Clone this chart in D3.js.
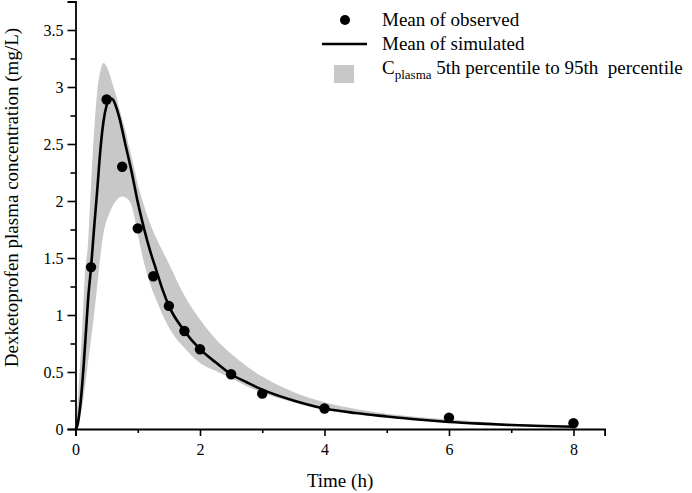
<!DOCTYPE html>
<html>
<head>
<meta charset="utf-8">
<script src="https://cdn.jsdelivr.net/npm/d3@7"></script>
<style>
  html, body { margin: 0; padding: 0; background: #fff; }
  svg { display: block; font-family: "Liberation Serif", "Times New Roman", serif; }
  svg text { font-family: "Liberation Serif", "Times New Roman", serif; }
</style>
</head>
<body>
<svg id="chart" width="692" height="493"></svg>
<script>
// ---- data ----
const obsTime = [0.25, 0.5, 0.75, 1, 1.25, 1.5, 1.75, 2, 2.5, 3, 4, 6, 8];
const obsMean = [1.42, 2.89, 2.30, 1.76, 1.34, 1.08, 0.86, 0.70, 0.48, 0.31, 0.18, 0.10, 0.05];

const simTime = [0, 0.03, 0.06, 0.09, 0.13, 0.17, 0.2, 0.25, 0.3, 0.35, 0.4, 0.45, 0.5, 0.55, 0.6, 0.65, 0.7, 0.8, 0.9, 1.0, 1.1, 1.2, 1.3, 1.4, 1.5, 1.75, 2.0, 2.25, 2.5, 2.75, 3.0, 3.5, 4.0, 4.5, 5.0, 5.5, 6.0, 6.5, 7.0, 7.5, 8.0];
const simMean = [0, 0.03, 0.13, 0.28, 0.55, 0.87, 1.12, 1.42, 1.77, 2.1, 2.45, 2.7, 2.84, 2.9, 2.89, 2.83, 2.74, 2.5, 2.26, 1.99, 1.76, 1.56, 1.39, 1.22, 1.08, 0.86, 0.70, 0.585, 0.48, 0.41, 0.345, 0.25, 0.18, 0.14, 0.11, 0.083, 0.062, 0.047, 0.035, 0.026, 0.02];

const bandTime = [0, 0.05, 0.1, 0.15, 0.2, 0.25, 0.3, 0.35, 0.4, 0.45, 0.5, 0.55, 0.6, 0.65, 0.7, 0.75, 0.8, 0.85, 0.9, 0.95, 1.0, 1.1, 1.2, 1.3, 1.4, 1.5, 1.75, 2.0, 2.25, 2.5, 2.75, 3.0, 3.5, 4.0, 4.5, 5.0, 5.5, 6.0, 6.5, 7.0, 7.5, 8.0];
const bandP95 = [0, 0.36, 0.8, 1.35, 1.62, 2.15, 2.62, 2.97, 3.14, 3.21, 3.18, 3.11, 3.02, 2.93, 2.82, 2.72, 2.62, 2.50, 2.39, 2.27, 2.15, 1.96, 1.80, 1.67, 1.56, 1.45, 1.17, 0.96, 0.79, 0.66, 0.55, 0.46, 0.325, 0.235, 0.175, 0.133, 0.105, 0.085, 0.063, 0.045, 0.031, 0.022];
const bandP5 = [0, 0.04, 0.17, 0.36, 0.58, 0.79, 1.01, 1.26, 1.52, 1.72, 1.83, 1.9, 1.96, 2.0, 2.03, 2.04, 2.03, 2.01, 1.96, 1.85, 1.71, 1.46, 1.27, 1.13, 1.0, 0.89, 0.71, 0.58, 0.51, 0.445, 0.375, 0.318, 0.235, 0.168, 0.13, 0.1, 0.076, 0.057, 0.043, 0.032, 0.024, 0.018];

const xTicks = [0, 2, 4, 6, 8];
const xMinorTicks = [1, 3, 5, 7];
const yTicks = [0, 0.5, 1, 1.5, 2, 2.5, 3, 3.5];
const yTickLabels = ["0", "0.5", "1", "1.5", "2", "2.5", "3", "3.5"];
const yMinorTicks = [0.25, 0.75, 1.25, 1.75, 2.25, 2.75, 3.25, 3.75];

const xTitle = "Time (h)";
const yTitle = "Dexketoprofen plasma concentration (mg/L)";
const legendObs = "Mean of observed";
const legendSim = "Mean of simulated";
const legendBandMain = "C";
const legendBandSub = "plasma";
const legendBandRest = " 5th percentile to 95th\u00a0 percentile";

// ---- layout ----
const FONT = "'Liberation Serif', 'Times New Roman', serif";
const svg = d3.select("#chart");
const x = d3.scaleLinear().domain([0, 8.5]).range([75.5, 604.6]);
const y = d3.scaleLinear().domain([0, 3.75]).range([429, 1.5]);
const BAND = "#c8c8c8";

// band
const bandData = bandTime.map((t, i) => ({t, lo: bandP5[i], hi: bandP95[i]}));
svg.append("path")
  .datum(bandData)
  .attr("fill", BAND)
  .attr("d", d3.area().x(d => x(d.t)).y0(d => y(d.lo)).y1(d => y(d.hi)).curve(d3.curveMonotoneX));

// mean simulated line
const simData = simTime.map((t, i) => ({t, v: simMean[i]}));
svg.append("path")
  .datum(simData)
  .attr("fill", "none")
  .attr("stroke", "#000")
  .attr("stroke-width", 2.6)
  .attr("stroke-linejoin", "round")
  .attr("d", d3.line().x(d => x(d.t)).y(d => y(d.v)).curve(d3.curveMonotoneX));

// observed points
svg.append("g").selectAll("circle")
  .data(obsTime.map((t, i) => ({t, v: obsMean[i]})))
  .join("circle")
  .attr("cx", d => x(d.t))
  .attr("cy", d => y(d.v))
  .attr("r", 5.2)
  .attr("fill", "#000");

// axes
function styleAxis(g) {
  g.attr("font-family", null).attr("font-size", null);
  g.selectAll("path.domain").attr("stroke", "#000").attr("stroke-width", 1.8);
  g.selectAll(".tick line").attr("stroke", "#000").attr("stroke-width", 1.6);
  g.selectAll(".tick text").attr("fill", "#000").style("font-size", "16px").style("font-family", FONT);
}

const gx = svg.append("g").attr("transform", `translate(0,${y(0)})`)
  .call(d3.axisBottom(x).tickValues(xTicks).tickSize(7).tickPadding(8).tickFormat(d3.format("d")));
styleAxis(gx);
const gxm = svg.append("g").attr("transform", `translate(0,${y(0)})`)
  .call(d3.axisBottom(x).tickValues(xMinorTicks).tickSize(4).tickFormat(""));
styleAxis(gxm);
gxm.select("path.domain").remove();

const gy = svg.append("g").attr("transform", `translate(${x(0)},0)`)
  .call(d3.axisLeft(y).tickValues(yTicks).tickSize(8).tickPadding(4)
    .tickFormat((d, i) => yTickLabels[i]));
styleAxis(gy);
const gym = svg.append("g").attr("transform", `translate(${x(0)},0)`)
  .call(d3.axisLeft(y).tickValues(yMinorTicks).tickSize(5).tickFormat(""));
styleAxis(gym);
gym.select("path.domain").remove();
gy.selectAll(".tick text").attr("dy", "0.36em");

// axis titles
svg.append("text")
  .attr("x", (x.range()[0] + x.range()[1]) / 2)
  .attr("y", 487)
  .attr("text-anchor", "middle")
  .style("font-size", "19px")
  .attr("fill", "#000")
  .text(xTitle);

svg.append("text")
  .attr("transform", `translate(18,${197.5}) rotate(-90)`)
  .attr("text-anchor", "middle")
  .style("font-size", "19px")
  .attr("fill", "#000")
  .text(yTitle);

// legend
const lg = svg.append("g");
lg.append("circle").attr("cx", 345).attr("cy", 20).attr("r", 5).attr("fill", "#000");
lg.append("line").attr("x1", 322).attr("x2", 367).attr("y1", 44).attr("y2", 44)
  .attr("stroke", "#000").attr("stroke-width", 2.6);
lg.append("rect").attr("x", 334).attr("y", 65).attr("width", 20).attr("height", 18).attr("fill", BAND);

lg.append("text").attr("x", 382).attr("y", 26).style("font-size", "19px").attr("fill", "#000").text(legendObs);
lg.append("text").attr("x", 382).attr("y", 50).style("font-size", "19px").attr("fill", "#000").text(legendSim);
const t3 = lg.append("text").attr("x", 382).attr("y", 74).style("font-size", "19px").attr("fill", "#000")
  .attr("xml:space", "preserve").style("white-space", "pre");
t3.append("tspan").text(legendBandMain);
t3.append("tspan").style("font-size", "13px").attr("dy", 5).text(legendBandSub);
t3.append("tspan").attr("dy", -5).text(legendBandRest);
</script>
</body>
</html>
